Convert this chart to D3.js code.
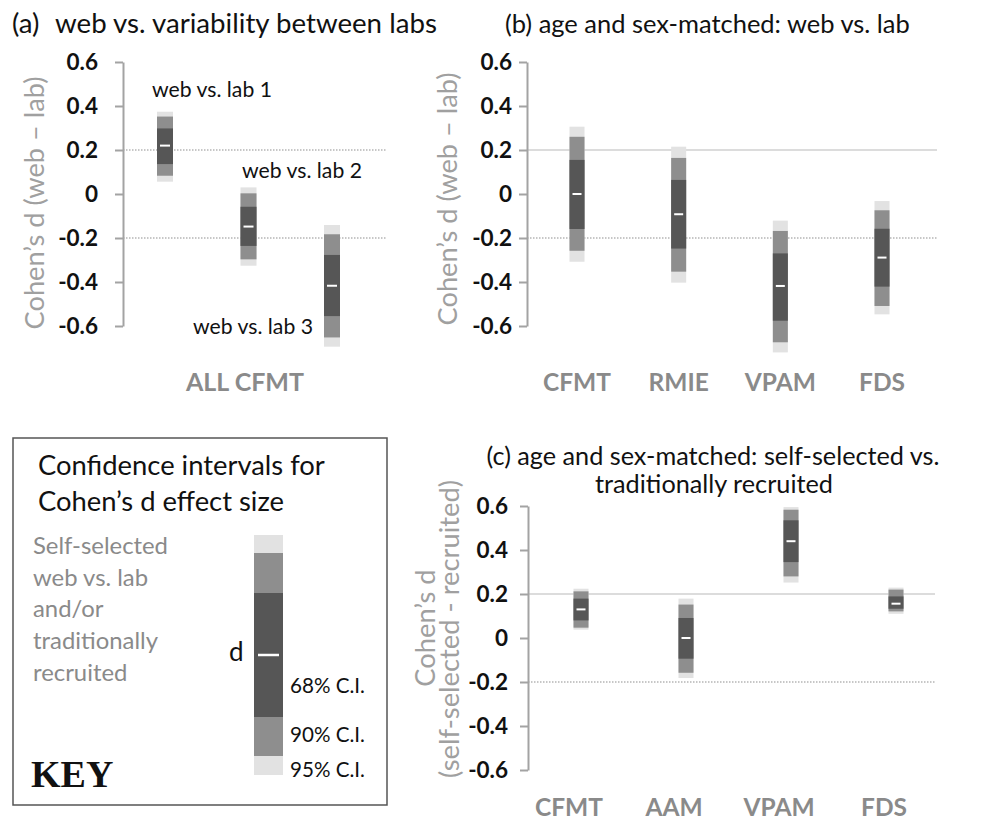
<!DOCTYPE html>
<html>
<head>
<meta charset="utf-8">
<script src="https://cdn.jsdelivr.net/npm/d3@7"></script>
<style>
  html, body { margin: 0; padding: 0; background: #fff; }
  svg { display: block; font-family: Lato, "Open Sans", sans-serif; }
</style>
</head>
<body>
<svg id="chart" width="992" height="820"></svg>
<script>
// ---------------- DATA ----------------
const yTicks = [-0.6, -0.4, -0.2, 0, 0.2, 0.4, 0.6];
const refLines = [0.2, -0.2];

// Panel (a): web vs. variability between labs (ALL CFMT)
const aLabels = ["web vs. lab 1", "web vs. lab 2", "web vs. lab 3"];
const aD    = [0.22, -0.148, -0.417];
const aCI68 = [[0.136, 0.298], [-0.236, -0.058], [-0.555, -0.277]];
const aCI90 = [[0.083, 0.352], [-0.297, 0.003], [-0.652, -0.183]];
const aCI95 = [[0.056, 0.374], [-0.326, 0.030], [-0.694, -0.141]];
const aXLabel = "ALL CFMT";

// Panel (b): age and sex-matched: web vs. lab
const bCats = ["CFMT", "RMIE", "VPAM", "FDS"];
const bD    = [0.0, -0.092, -0.418, -0.289];
const bCI68 = [[-0.159, 0.155], [-0.248, 0.064], [-0.576, -0.270], [-0.421, -0.158]];
const bCI90 = [[-0.258, 0.260], [-0.353, 0.164], [-0.674, -0.168], [-0.509, -0.074]];
const bCI95 = [[-0.308, 0.306], [-0.403, 0.215], [-0.720, -0.121], [-0.547, -0.032]];

// Panel (c): age and sex-matched: self-selected vs. traditionally recruited
const cCats = ["CFMT", "AAM", "VPAM", "FDS"];
const cD    = [0.13, 0.0, 0.44, 0.156];
const cCI68 = [[0.080, 0.179], [-0.094, 0.091], [0.345, 0.535], [0.133, 0.189]];
const cCI90 = [[0.047, 0.212], [-0.158, 0.152], [0.280, 0.583], [0.121, 0.220]];
const cCI95 = [[0.038, 0.224], [-0.182, 0.179], [0.252, 0.595], [0.110, 0.229]];

// Key example
const keyD = 0;
const keyCI68 = [-0.62, 0.62];
const keyCI90 = [-1.01, 1.02];
const keyCI95 = [-1.2, 1.2];
const keyCILabels = ["68% C.I.", "90% C.I.", "95% C.I."];
const keyNote = ["Self-selected", "web vs. lab", "and/or", "traditionally", "recruited"];

// ---------------- STYLE ----------------
const col95 = "#e2e2e2", col90 = "#8e8e8e", col68 = "#565656";
const axisCol = "#a3a3a3";
const svg = d3.select("#chart");
const fmt = v => (v === 0 ? "0" : v.toFixed(1));

// scale a text's font-size so that it spans the given width
function fit(sel, width) {
  const node = sel.node();
  const fs = parseFloat(sel.attr("font-size"));
  const w = node.getComputedTextLength();
  if (w > 0) sel.attr("font-size", (fs * width / w).toFixed(2));
  return sel;
}

function drawPanel(o) {
  const g = svg.append("g");
  const y = d3.scaleLinear().domain([-0.6, 0.6]).range([o.yBottom, o.yTop]);
  const x = d3.scalePoint().domain(o.cats).range(o.xRange);

  refLines.forEach((v, i) => {
    const solid = o.solidTop && i === 0;
    g.append("line")
      .attr("x1", o.axisX).attr("x2", o.lineEnd)
      .attr("y1", y(v)).attr("y2", y(v))
      .attr("stroke", solid ? "#d0d0d0" : "#b5b5b5")
      .attr("stroke-width", solid ? 1.6 : 1.3)
      .attr("stroke-dasharray", solid ? null : "1.5,1.5");
  });

  const ax = g.append("g").attr("transform", `translate(${o.axisX},0)`)
    .call(d3.axisLeft(y).tickValues(yTicks).tickFormat(fmt)
      .tickSize(8).tickSizeOuter(0).tickPadding(o.pad));
  ax.select(".domain").attr("stroke", axisCol).attr("stroke-width", 2);
  ax.selectAll(".tick line").attr("stroke", axisCol).attr("stroke-width", 2);
  ax.selectAll(".tick text").attr("fill", "#111").attr("font-size", 22.5)
    .attr("font-weight", 700).attr("font-family", "Lato, sans-serif");

  const w = o.barW;
  [[o.ci95, col95], [o.ci90, col90], [o.ci68, col68]].forEach(([ci, c]) => {
    g.selectAll(null).data(o.cats).enter().append("rect")
      .attr("x", d => x(d) - w / 2)
      .attr("width", w)
      .attr("y", (d, i) => y(ci[i][1]))
      .attr("height", (d, i) => y(ci[i][0]) - y(ci[i][1]))
      .attr("fill", c);
  });
  g.selectAll(null).data(o.cats).enter().append("line")
    .attr("x1", d => x(d) - w / 2 + 3).attr("x2", d => x(d) + w / 2 - 3)
    .attr("y1", (d, i) => y(o.d[i])).attr("y2", (d, i) => y(o.d[i]))
    .attr("stroke", "#fff").attr("stroke-width", 2);
  return { g, x, y };
}

function txt(x, y, s, size, color, anchor) {
  return svg.append("text").attr("x", x).attr("y", y).attr("font-size", size)
    .attr("fill", color || "#111").attr("text-anchor", anchor || "start").text(s);
}
function vtxt(cx, cy, s, size) {
  return svg.append("text").attr("transform", `translate(${cx},${cy}) rotate(-90)`)
    .attr("text-anchor", "middle").attr("font-size", size).attr("fill", "#a0a0a0").text(s);
}

// ----- Panel (a)
const ta = fit(txt(55, 33, "web vs. variability between labs", 24), 382);
txt(12, 33, "(a)", ta.attr("font-size"));
const pa = drawPanel({ cats: aLabels, d: aD, ci68: aCI68, ci90: aCI90, ci95: aCI95,
  yTop: 62, yBottom: 326, xRange: [165, 332], axisX: 123, lineEnd: 387, pad: 17, barW: 16 });
const aLabelPos = [[212, 97], [302, 178], [253, 334]];
aLabels.forEach((t, i) => fit(txt(aLabelPos[i][0], aLabelPos[i][1], t, 18, "#111", "middle"), 120));
txt(245, 391, aXLabel, 25, "#8a8a8a", "middle").attr("font-weight", 700);
const yta = fit(vtxt(44, 203, "Cohen’s d (web – lab)", 24), 253);

// ----- Panel (b)
fit(txt(505, 33, "(b) age and sex-matched: web vs. lab", 24), 405);
const pb = drawPanel({ cats: bCats, d: bD, ci68: bCI68, ci90: bCI90, ci95: bCI95,
  yTop: 62, yBottom: 326, xRange: [577, 882], axisX: 527, lineEnd: 937, pad: 7, barW: 15, solidTop: true });
bCats.forEach(c => txt(pb.x(c), 391, c, 24.5, "#8a8a8a", "middle").attr("font-weight", 700));
vtxt(457, 199, "Cohen’s d (web – lab)", yta.attr("font-size"));

// ----- Panel (c)
fit(txt(713, 465, "(c) age and sex-matched: self-selected vs.", 24, "#111", "middle"), 453);
fit(txt(714, 493, "traditionally recruited", 24, "#111", "middle"), 238);
const pc = drawPanel({ cats: cCats, d: cD, ci68: cCI68, ci90: cCI90, ci95: cCI95,
  yTop: 506, yBottom: 770, xRange: [581, 896], axisX: 528, lineEnd: 935, pad: 12, barW: 15, solidTop: true });
cCats.forEach(c => txt(pc.x(c) - 12, 816, c, 24.5, "#8a8a8a", "middle").attr("font-weight", 700));
const ytc = fit(vtxt(459, 629, "(self-selected - recruited)", 24), 298);
vtxt(435, 628, "Cohen’s d", ytc.attr("font-size"));

// ----- Key
svg.append("rect").attr("x", 13).attr("y", 438).attr("width", 374).attr("height", 367)
  .attr("fill", "none").attr("stroke", "#555").attr("stroke-width", 1.5);
const kt1 = fit(txt(38, 475, "Confidence intervals for", 24), 287);
txt(38, 511, "Cohen’s d effect size", kt1.attr("font-size"));
const kn0 = fit(txt(33, 554, keyNote[0], 21, "#8a8a8a"), 135);
keyNote.slice(1).forEach((t, i) => txt(33, 554 + (i + 1) * 31.7, t, kn0.attr("font-size"), "#8a8a8a"));
const ky = d3.scaleLinear().domain([-1.2, 1.2]).range([775, 535]);
[[keyCI95, col95], [keyCI90, col90], [keyCI68, col68]].forEach(([ci, c]) => {
  svg.append("rect").attr("x", 254).attr("width", 29)
    .attr("y", ky(ci[1])).attr("height", ky(ci[0]) - ky(ci[1])).attr("fill", c);
});
svg.append("line").attr("x1", 258).attr("x2", 279).attr("y1", ky(keyD)).attr("y2", ky(keyD))
  .attr("stroke", "#fff").attr("stroke-width", 2.5);
txt(229, 661, "d", 26);
const keyLabY = [693, 742, 777];
keyCILabels.forEach((t, i) => fit(txt(290, keyLabY[i], t, 18), 75));
txt(31, 787, "KEY", 38).attr("font-weight", 700)
  .attr("font-family", "'Liberation Serif', 'DejaVu Serif', serif");
</script>
</body>
</html>
